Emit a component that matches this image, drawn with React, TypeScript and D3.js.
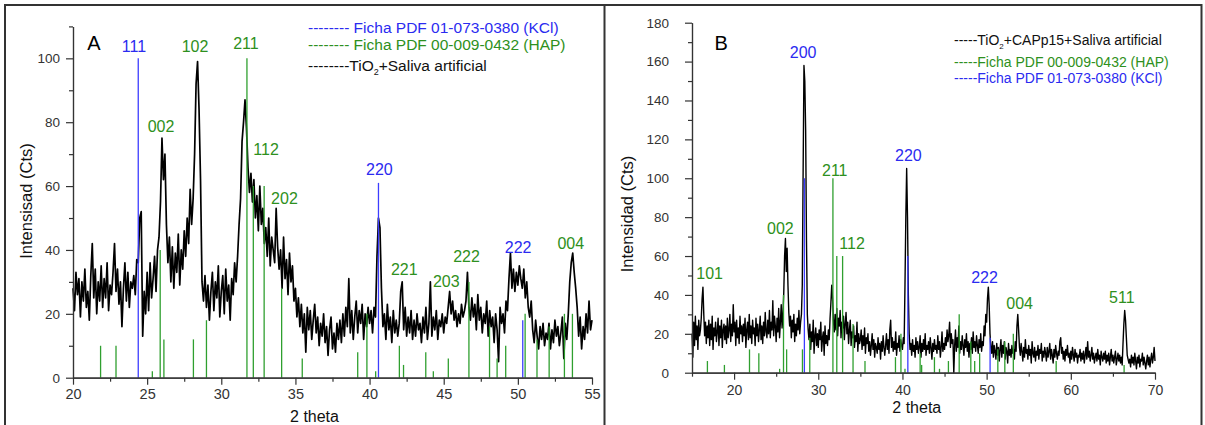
import React, { useEffect, useRef } from 'react'
import * as d3 from 'd3'

const FONT = '"Liberation Sans", Arial, Helvetica, sans-serif'
const BLUE = '#3d3dff'
const BLUE_TXT = '#2b2bf0'
const GREEN = '#2f9f2f'
const GREEN_TXT = '#2e9020'

// ---------- panel A : TiO2 + saliva artificial (2 theta 20..55, every 0.1) ----------
const aStart = 20
const aStep = 0.1
const aCounts = [
  28, 21, 33, 26, 31, 19, 30, 24, 34, 22, // 20
  27, 18, 32, 42, 25, 34, 20, 30, 24, 35, // 21
  22, 31, 25, 36, 21, 29, 26, 33, 42, 27, // 22
  34, 23, 30, 16, 28, 36, 24, 33, 22, 30, // 23
  28, 32, 26, 37, 36, 50, 52, 13, 27, 20, // 24
  33, 21, 36, 25, 31, 38, 27, 40, 44, 55, // 25
  75, 62, 70, 48, 36, 44, 30, 41, 28, 39, // 26
  33, 45, 29, 40, 34, 46, 38, 50, 42, 59, // 27
  48, 56, 70, 92, 99, 84, 62, 30, 24, 32, // 28
  22, 29, 18, 27, 33, 21, 30, 25, 35, 19, // 29
  27, 32, 20, 34, 24, 29, 18, 31, 26, 36, // 30
  30, 38, 48, 56, 74, 80, 87, 78, 66, 58, // 31
  64, 55, 62, 50, 57, 46, 60, 48, 53, 42, // 32
  47, 38, 50, 35, 44, 40, 36, 53, 41, 34, // 33
  40, 28, 44, 31, 37, 26, 39, 30, 35, 24, // 34
  28, 19, 25, 16, 23, 14, 20, 8, 22, 15, // 35
  21, 12, 18, 23, 14, 19, 10, 17, 13, 20, // 36
  11, 16, 7, 15, 19, 9, 14, 8, 17, 12, // 37
  18, 11, 20, 13, 22, 16, 31, 14, 21, 12, // 38
  19, 24, 14, 21, 17, 23, 12, 20, 16, 22, // 39
  17, 21, 14, 22, 19, 38, 50, 47, 28, 16, // 40
  20, 12, 23, 15, 19, 11, 21, 14, 18, 13, // 41
  17, 27, 30, 15, 22, 13, 19, 14, 21, 12, // 42
  18, 13, 20, 15, 17, 11, 19, 14, 22, 12, // 43
  17, 30, 13, 19, 15, 21, 12, 18, 16, 20, // 44
  14, 19, 17, 22, 27, 20, 24, 18, 21, 16, // 45
  20, 17, 23, 19, 21, 24, 33, 22, 18, 25, // 46
  19, 23, 15, 26, 18, 22, 14, 20, 17, 24, // 47
  13, 21, 16, 19, 11, 20, 15, 5, 22, 17, // 48
  20, 14, 24, 21, 31, 39, 28, 34, 27, 33, // 49
  29, 35, 31, 28, 34, 25, 30, 22, 19, 24, // 50
  15, 11, 18, 13, 9, 16, 12, 17, 10, 14, // 51
  12, 17, 9, 15, 11, 18, 13, 16, 10, 14, // 52
  19, 6, 17, 12, 20, 30, 36, 39, 33, 28, // 53
  22, 13, 19, 9, 16, 12, 20, 14, 24, 15, // 54
  18,
]
const aHapPos = [21.86, 22.9, 25.35, 25.88, 26.13, 28.12, 29.0, 31.73, 32.16, 32.89, 34.07, 35.46, 39.2, 39.82, 40.41, 42.01, 42.29, 43.79, 44.3, 45.31, 46.7, 48.09, 48.6, 49.18, 50.49, 51.29, 52.11, 53.14, 53.68]
const aHapInt = [10, 10, 2, 40, 12, 12, 18, 100, 60, 60, 28, 6, 8, 20, 2, 10, 4, 8, 2, 6, 30, 16, 6, 10, 20, 12, 16, 20, 20]
const aKclPos = [24.4, 40.6, 50.33]
const aKclInt = [100, 61, 18]
const aLabelText = ['111', '102', '211', '002', '112', '202', '220', '221', '203', '222', '222', '004']
const aLabelX = [24.11, 28.23, 31.66, 25.94, 33.02, 34.26, 40.66, 42.34, 45.17, 46.54, 50.02, 53.57]
const aLabelY = [101.9, 102, 102.9, 76.9, 69.7, 54.4, 63.5, 32.2, 28.5, 36.2, 39.0, 40.4]
const aLabelKcl = [true, false, false, false, false, false, true, false, false, false, true, false]
const aXMajor = [20, 25, 30, 35, 40, 45, 50, 55]
const aXMinor = [22.5, 27.5, 32.5, 37.5, 42.5, 47.5, 52.5]
const aYMajor = [0, 20, 40, 60, 80, 100]
const aYMinor = [10, 30, 50, 70, 90, 110]

// ---------- panel B : TiO2 + CAPp15 + saliva artificial (2 theta 15..70, every 0.1) ----------
const bStart = 15
const bStep = 0.1
const bCounts = [
  20, 8, 26, 14, 29, 17, 24, 12, 27, 19, // 15
  22, 28, 38, 44, 30, 19, 26, 15, 24, 18, // 16
  27, 14, 25, 17, 29, 12, 23, 19, 26, 16, // 17
  21, 28, 14, 24, 18, 27, 13, 22, 25, 17, // 18
  24, 15, 28, 18, 22, 30, 16, 25, 19, 35, // 19
  21, 26, 14, 27, 18, 23, 15, 29, 20, 24, // 20
  16, 25, 19, 28, 13, 22, 26, 17, 30, 18, // 21
  24, 15, 27, 20, 23, 14, 28, 19, 25, 16, // 22
  22, 29, 17, 24, 15, 26, 19, 31, 21, 18, // 23
  27, 20, 32, 18, 26, 22, 37, 19, 29, 24, // 24
  16, 28, 21, 33, 18, 26, 35, 23, 30, 41, // 25
  60, 69, 52, 64, 45, 31, 24, 29, 18, 27, // 26
  21, 30, 16, 25, 19, 28, 22, 32, 20, 26, // 27
  30, 45, 103, 158, 150, 125, 68, 30, 22, 17, // 28
  25, 12, 21, 16, 27, 10, 19, 23, 14, 20, // 29
  13, 22, 17, 26, 11, 18, 21, 9, 24, 15, // 30
  19, 14, 22, 17, 28, 36, 45, 38, 27, 21, // 31
  30, 22, 33, 19, 28, 24, 32, 18, 26, 23, // 32
  29, 17, 25, 31, 20, 26, 15, 22, 27, 14, // 33
  21, 18, 24, 13, 19, 16, 26, 11, 20, 15, // 34
  17, 22, 12, 19, 14, 23, 10, 18, 15, 20, // 35
  11, 16, 9, 14, 20, 12, 17, 8, 15, 13, // 36
  10, 18, 12, 15, 7, 16, 11, 19, 13, 9, // 37
  14, 20, 12, 17, 10, 22, 27, 13, 18, 11, // 38
  16, 12, 21, 9, 15, 13, 19, 11, 17, 14, // 39
  12, 18, 15, 45, 80, 105, 80, 40, 20, 12, // 40
  15, 9, 17, 11, 14, 8, 18, 12, 16, 10, // 41
  13, 19, 8, 15, 11, 17, 12, 20, 9, 14, // 42
  12, 16, 10, 18, 13, 7, 15, 11, 17, 12, // 43
  14, 10, 19, 12, 16, 8, 13, 21, 11, 15, // 44
  12, 18, 14, 22, 16, 19, 26, 13, 20, 15, // 45
  17, 0, 14, 22, 11, 18, 13, 24, 10, 16, // 46
  12, 19, 14, 9, 17, 13, 20, 11, 16, 8, // 47
  15, 12, 18, 10, 21, 13, 16, 11, 19, 14, // 48
  10, 17, 13, 20, 11, 16, 14, 24, 19, 30, // 49
  26, 38, 44, 35, 20, 13, 10, 16, 8, 14, // 50
  11, 7, 15, 9, 13, 6, 12, 17, 8, 14, // 51
  10, 16, 7, 13, 11, 5, 15, 9, 12, 8, // 52
  14, 10, 12, 7, 16, 11, 24, 30, 22, 13, // 53
  9, 15, 11, 6, 13, 8, 17, 10, 12, 7, // 54
  14, 9, 12, 5, 16, 10, 8, 13, 6, 11, // 55
  9, 14, 7, 12, 10, 15, 6, 11, 8, 13, // 56
  10, 6, 13, 8, 11, 15, 7, 12, 9, 5, // 57
  12, 8, 14, 10, 7, 11, 9, 16, 18, 10, // 58
  13, 7, 11, 6, 12, 9, 14, 8, 10, 5, // 59
  11, 7, 13, 9, 6, 12, 8, 10, 5, 9, // 60
  8, 12, 6, 10, 7, 11, 5, 9, 13, 7, // 61
  16, 8, 11, 6, 9, 13, 7, 10, 5, 8, // 62
  10, 6, 12, 7, 9, 4, 11, 8, 6, 10, // 63
  7, 11, 5, 9, 6, 10, 4, 8, 12, 6, // 64
  9, 5, 8, 11, 4, 7, 10, 6, 9, 5, // 65
  8, 4, 15, 25, 32, 27, 18, 9, 7, 5, // 66
  7, 3, 9, 5, 8, 4, 10, 6, 2, 8, // 67
  5, 9, 3, 7, 6, 10, 4, 8, 5, 2, // 68
  6, 9, 4, 8, 3, 7, 10, 5, 8, 13, // 69
  6,
]
const bHapPos = [16.83, 18.85, 21.83, 22.94, 25.41, 25.87, 26.24, 28.12, 28.99, 31.74, 32.2, 32.89, 34.13, 35.55, 39.17, 39.82, 40.3, 42.1, 42.28, 43.8, 44.4, 45.46, 46.74, 48.12, 48.58, 49.17, 51.33, 52.16, 53.17, 58.26, 66.33]
const bHapInt = [6, 4, 12, 10, 2, 40, 12, 12, 18, 100, 60, 60, 25, 6, 8, 20, 2, 10, 4, 8, 2, 6, 30, 16, 6, 10, 12, 16, 20, 6, 4]
const bKclPos = [28.35, 40.64, 50.41]
const bKclInt = [100, 60, 18]
const bLabelText = ['200', '220', '211', '002', '112', '101', '222', '004', '511']
const bLabelX = [28.2, 40.7, 31.96, 25.5, 34.02, 17.09, 49.75, 53.92, 66.06]
const bLabelY = [161.7, 108.9, 101.3, 71.2, 63.5, 48.0, 46.3, 32.8, 36.0]
const bLabelKcl = [true, true, false, false, false, false, true, false, false]
const bXMajor = [20, 30, 40, 50, 60, 70]
const bXMinor = [15, 25, 35, 45, 55, 65]
const bYMajor = [0, 20, 40, 60, 80, 100, 120, 140, 160, 180]
const bYMinor = [10, 30, 50, 70, 90, 110, 130, 150, 170]

// d3's axis writes its own font attrs on the group it is called on, so restyle that group
function styleAxis(g: any, size: number) {
  g.attr('font-family', FONT).attr('font-size', size)
  g.select('.domain').attr('stroke', '#333').attr('stroke-width', 1.2)
  g.selectAll('.tick line').attr('stroke', '#333').attr('stroke-width', 1.2)
  g.selectAll('.tick text').attr('fill', '#333')
}

function Panel(p: any) {
  const xRef = useRef<SVGGElement>(null)
  const yRef = useRef<SVGGElement>(null)

  const x = d3.scaleLinear().domain(p.xDomain).range([p.left, p.right])
  const y = d3.scaleLinear().domain(p.yDomain).range([p.bottom, p.top])

  useEffect(() => {
    const gx = d3.select(xRef.current)
    gx.selectAll('*').remove()
    styleAxis(gx.append('g').call(d3.axisBottom(x).tickValues(p.xMinor).tickSize(4).tickSizeOuter(0).tickFormat(() => '')), p.xFont)
    styleAxis(gx.append('g').call(d3.axisBottom(x).tickValues(p.xMajor).tickSize(7).tickSizeOuter(0).tickPadding(p.xPad).tickFormat(d3.format('d'))), p.xFont)

    const gy = d3.select(yRef.current)
    gy.selectAll('*').remove()
    styleAxis(gy.append('g').call(d3.axisLeft(y).tickValues(p.yMinor).tickSize(4).tickSizeOuter(0).tickFormat(() => '')), p.yFont)
    styleAxis(gy.append('g').call(d3.axisLeft(y).tickValues(p.yMajor).tickSize(7).tickSizeOuter(0).tickPadding(p.yPad).tickFormat(d3.format('d'))), p.yFont)
  })

  const line = d3.line<number>()
    .x((d, i) => x(p.start + i * p.step))
    .y(d => y(d))

  return (
    <g>
      <path d={line(p.counts) || ''} fill="none" stroke="#000" strokeWidth={p.lineWidth} strokeLinejoin="round" />
      {p.hapPos.map((v: number, i: number) => (
        <line key={'h' + i} x1={x(v)} x2={x(v)} y1={y(0)} y2={y(p.hapInt[i])} stroke={GREEN} strokeWidth={1.3} />
      ))}
      {p.kclPos.map((v: number, i: number) => (
        <line key={'k' + i} x1={x(v)} x2={x(v)} y1={y(0)} y2={y(p.kclInt[i])} stroke={BLUE} strokeWidth={1.3} />
      ))}
      <g ref={xRef} transform={`translate(0,${p.bottom})`} />
      <g ref={yRef} transform={`translate(${p.left},0)`} />
      {p.labelText.map((t: string, i: number) => (
        <text key={'l' + i} x={x(p.labelX[i])} y={y(p.labelY[i])} textAnchor="middle"
          fontFamily={FONT} fontSize={16} fill={p.labelKcl[i] ? BLUE_TXT : GREEN_TXT}>{t}</text>
      ))}
      <text x={x(p.letterX)} y={y(p.letterY)} fontFamily={FONT} fontSize={20} fill="#000">{p.letter}</text>
      <text x={(p.left + p.right) / 2 + p.xTitleShift} y={p.xTitleY} textAnchor="middle"
        fontFamily={FONT} fontSize={p.xTitleFont} fill="#111">2 theta</text>
      <text transform={`translate(${p.yTitleX},${p.yTitleCy}) rotate(-90)`} textAnchor="middle"
        fontFamily={FONT} fontSize={16.5} fill="#111" dy="0.35em">{p.yTitle}</text>
      {p.legend}
    </g>
  )
}

export default function App() {
  const legendA = (
    <g fontFamily={FONT} fontSize={15.5}>
      <text x={308} y={33} fill={BLUE_TXT}>-------- Ficha PDF 01-073-0380 (KCl)</text>
      <text x={308} y={50} fill={GREEN_TXT}>-------- Ficha PDF 00-009-0432 (HAP)</text>
      <text x={308} y={71} fill="#111">--------TiO<tspan fontSize={9} dy={4}>2</tspan><tspan dy={-4}>+Saliva artificial</tspan></text>
    </g>
  )
  const legendB = (
    <g fontFamily={FONT} fontSize={14}>
      <text x={954} y={45} fill="#111">-----TiO<tspan fontSize={8} dy={4}>2</tspan><tspan dy={-4}>+CAPp15+Saliva artificial</tspan></text>
      <text x={954} y={66.5} fill={GREEN_TXT}>-----Ficha PDF 00-009-0432 (HAP)</text>
      <text x={954} y={82.5} fill={BLUE_TXT}>-----Ficha PDF 01-073-0380 (KCl)</text>
    </g>
  )

  return (
    <svg width={1205} height={425} style={{ position: 'absolute', left: 0, top: 0, background: '#fff' }}>
      <rect x={0} y={0} width={1205} height={425} fill="#fff" />
      <path d="M5,430 V5 H1201.5 V430 M604.5,5 V430" fill="none" stroke="#333" strokeWidth={2} />
      <Panel
        left={73} right={592} bottom={377.7} top={26.4}
        xDomain={[20, 55]} yDomain={[0, 110]}
        start={aStart} step={aStep} counts={aCounts} lineWidth={1.7}
        hapPos={aHapPos} hapInt={aHapInt} kclPos={aKclPos} kclInt={aKclInt}
        labelText={aLabelText} labelX={aLabelX} labelY={aLabelY} labelKcl={aLabelKcl}
        xMajor={aXMajor} xMinor={aXMinor} yMajor={aYMajor} yMinor={aYMinor}
        xPad={4} yPad={6} xFont={14.5} yFont={13.5}
        letter="A" letterX={20.96} letterY={102.6}
        xTitleY={422} xTitleFont={16} xTitleShift={-18}
        yTitle="Intensisad (Cts)" yTitleX={26} yTitleCy={201}
        legend={legendA}
      />
      <Panel
        left={692} right={1155} bottom={372.7} top={22.7}
        xDomain={[15, 70]} yDomain={[0, 180]}
        start={bStart} step={bStep} counts={bCounts} lineWidth={1.4}
        hapPos={bHapPos} hapInt={bHapInt} kclPos={bKclPos} kclInt={bKclInt}
        labelText={bLabelText} labelX={bLabelX} labelY={bLabelY} labelKcl={bLabelKcl}
        xMajor={bXMajor} xMinor={bXMinor} yMajor={bYMajor} yMinor={bYMinor}
        xPad={5} yPad={16} xFont={14} yFont={13.5}
        letter="B" letterX={17.68} letterY={166}
        xTitleY={412.5} xTitleFont={16} xTitleShift={-6.7}
        yTitle="Intensidad (Cts)" yTitleX={627} yTitleCy={214}
        legend={legendB}
      />
    </svg>
  )
}
